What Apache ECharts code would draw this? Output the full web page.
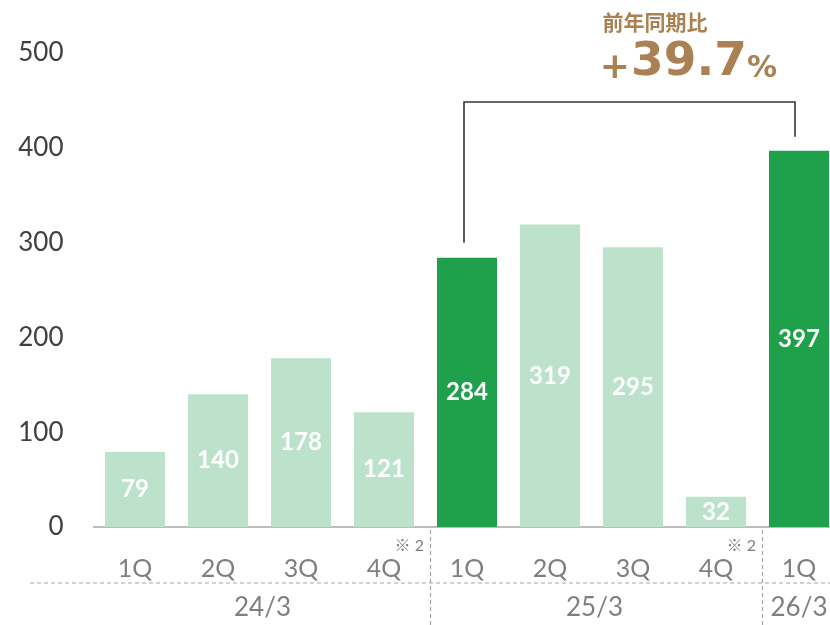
<!DOCTYPE html>
<html>
<head>
<meta charset="utf-8">
<script src="https://cdn.jsdelivr.net/npm/echarts@6/dist/echarts.min.js"></script>
<style>
html,body{margin:0;padding:0;background:#fff;}
#chart{width:830px;height:625px;}
</style>
</head>
<body>
<div id="chart"></div>
<script>
// ---- data ----
const categories = ['24/3 1Q','24/3 2Q','24/3 3Q','24/3 4Q','25/3 1Q','25/3 2Q','25/3 3Q','25/3 4Q','26/3 1Q'];
const quarterLabels = ['1Q','2Q','3Q','4Q','1Q','2Q','3Q','4Q','1Q'];
const values = [79, 140, 178, 121, 284, 319, 295, 32, 397];
const highlighted = [4, 8];
const yTicks = [0, 100, 200, 300, 400, 500];
const years = ['24/3', '25/3', '26/3'];
const yearFirst = [0, 4, 8];
const yearLast = [3, 7, 8];
const noteIndex = [3, 7];
const noteText = '※ 2';
const yoyTitle = '前年同期比';
const yoyPlus = '+';
const yoyNumber = '39.7';
const yoyUnit = '%';
const compareFrom = 4, compareTo = 8;

const LIGHT = '#bde2cc', DARK = '#1fa04a', GOLD = '#a98152', GRAY = '#7f7f7f';
const FONT = 'Lato, "Open Sans", "Noto Sans CJK JP", sans-serif';
const WIDE = '"DejaVu Sans", Verdana, sans-serif';

const chart = echarts.init(document.getElementById('chart'));
chart.setOption({
  animation: false,
  grid: {left: 93.5, top: 53, width: 747, height: 474, containLabel: false, outerBoundsMode: 'none'},
  xAxis: {
    type: 'category',
    data: categories,
    axisLine: {lineStyle: {color: '#a6a6a6', width: 1.5}},
    axisTick: {show: false},
    axisLabel: {
      margin: 29, fontSize: 25, color: GRAY, fontFamily: FONT,
      formatter: (v, i) => quarterLabels[i]
    }
  },
  yAxis: {
    type: 'value', min: yTicks[0], max: yTicks[yTicks.length - 1], interval: 100,
    splitLine: {show: false}, axisLine: {show: false}, axisTick: {show: false},
    axisLabel: {margin: 30, fontSize: 26, color: '#404040', fontFamily: FONT}
  },
  series: [{
    type: 'bar',
    barWidth: 60,
    data: values.map((v, i) => ({
      value: v,
      itemStyle: {color: highlighted.includes(i) ? DARK : LIGHT}
    })),
    label: {
      show: true, position: 'inside', color: '#fff', fontSize: 24,
      fontWeight: 'bold', fontFamily: FONT
    }
  }]
});

function px(i, v) { return chart.convertToPixel({gridIndex: 0}, [i, v]); }
const band = px(1, 0)[0] - px(0, 0)[0];
const baseY = px(0, 0)[1];
const g = [];
const dash = {stroke: '#a6a6a6', lineWidth: 1.2, lineDash: [4, 3]};
// horizontal dashed separator
g.push({type: 'line', shape: {x1: 30, y1: 583, x2: 830, y2: 583}, style: dash, silent: true});
// vertical dashed separators between years
for (let k = 0; k < yearLast.length - 1; k++) {
  const x = px(yearLast[k], 0)[0] + band / 2 + 5;
  g.push({type: 'line', shape: {x1: x, y1: baseY + 3, x2: x, y2: 625}, style: dash, silent: true});
}
// year labels
years.forEach((y, k) => {
  const x = (px(yearFirst[k], 0)[0] + px(yearLast[k], 0)[0]) / 2 + (k === 2 ? 0 : 3);
  g.push({type: 'text', x: x, y: 608, style: {text: y, fontSize: 26, fill: GRAY, fontFamily: FONT, align: 'center', verticalAlign: 'middle'}});
});
// notes
noteIndex.forEach(i => {
  const x = px(i, 0)[0] + 40;
  g.push({type: 'text', x: x, y: 546, style: {text: noteText, fontSize: 16, fill: GRAY, fontFamily: FONT, align: 'right', verticalAlign: 'middle'}});
});
// bracket
const a = px(compareFrom, values[compareFrom]);
const b = px(compareTo, values[compareTo]);
const topY = 102;
g.push({type: 'polyline', shape: {points: [[a[0] - 3, a[1] - 15], [a[0] - 3, topY], [b[0] - 4, topY], [b[0] - 4, b[1] - 14]]},
  style: {stroke: '#3a3232', lineWidth: 1.6, fill: null}, silent: true});
// yoy annotation
g.push({type: 'text', x: 655, y: 22, style: {text: yoyTitle, fontSize: 21, fontWeight: 'bold', fill: GOLD, fontFamily: '"Noto Sans CJK JP", sans-serif', align: 'center', verticalAlign: 'middle'}});
g.push({type: 'text', x: 630, y: 69, style: {text: yoyPlus, fontSize: 36, fontWeight: 'bold', fill: GOLD, fontFamily: WIDE, align: 'right', verticalAlign: 'middle'}});
g.push({type: 'text', x: 631, y: 63, style: {text: yoyNumber, fontSize: 47, fontWeight: 'bold', fill: GOLD, fontFamily: WIDE, align: 'left', verticalAlign: 'middle'}});
g.push({type: 'text', x: 747, y: 69, style: {text: yoyUnit, fontSize: 30, fontWeight: 'bold', fill: GOLD, fontFamily: WIDE, align: 'left', verticalAlign: 'middle'}});
chart.setOption({graphic: g});
</script>
</body>
</html>
